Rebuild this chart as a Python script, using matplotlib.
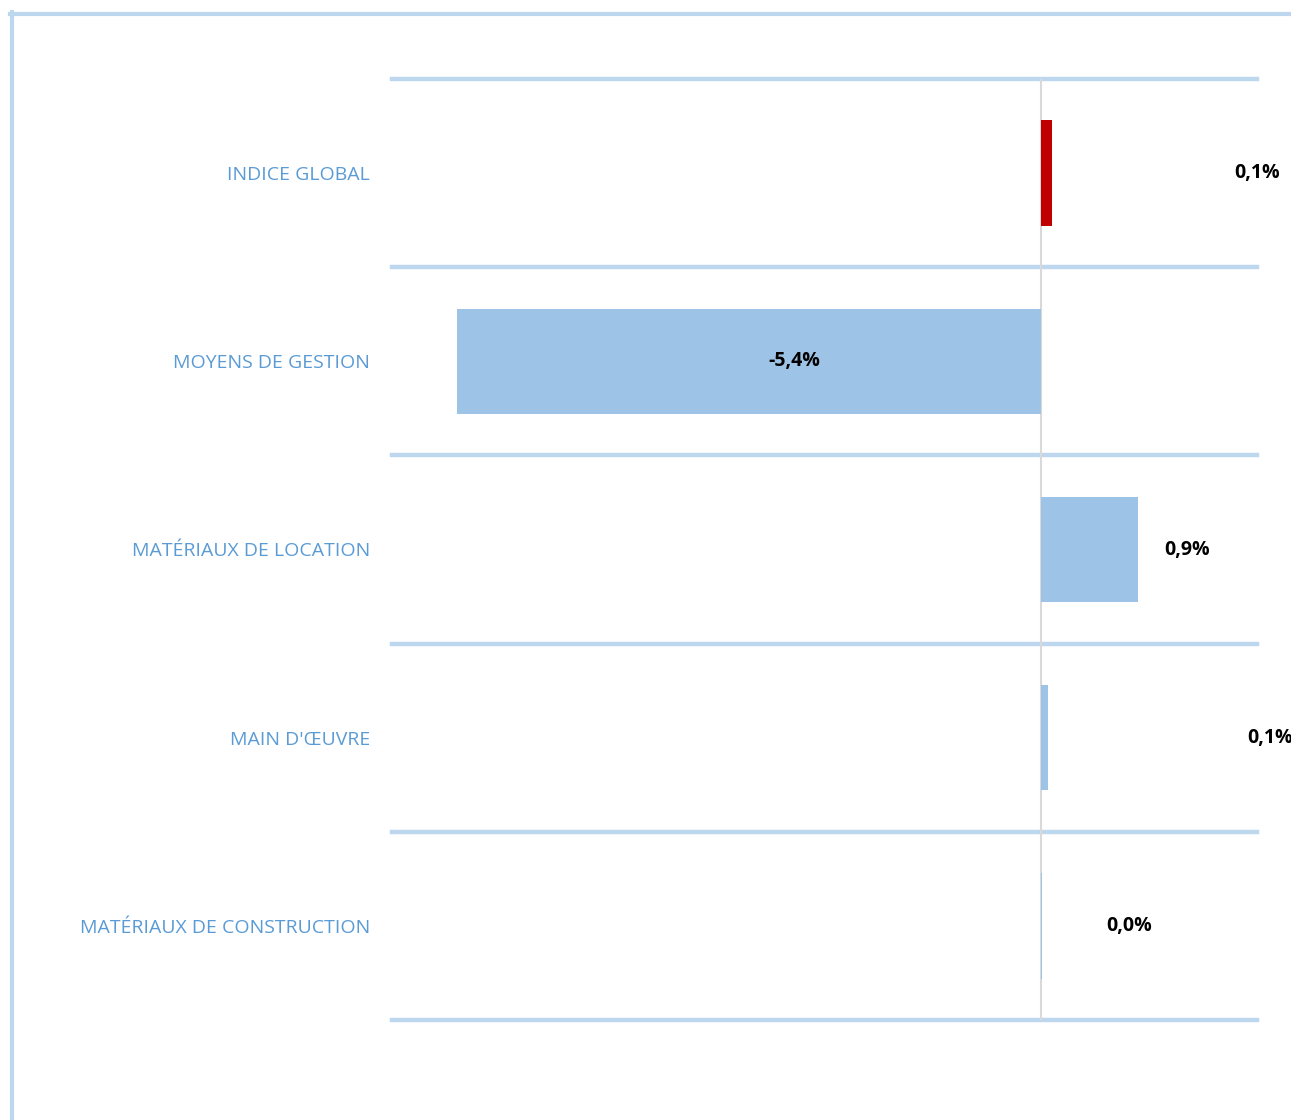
import numpy as np
import matplotlib.pyplot as plt
from matplotlib.lines import Line2D

# Data (top to bottom as displayed)
categories = ['INDICE GLOBAL', 'MOYENS DE GESTION', 'MATÉRIAUX DE LOCATION',
              "MAIN D'ŒUVRE", 'MATÉRIAUX DE CONSTRUCTION']
values = [0.1, -5.4, 0.9, 0.07, 0.015]
value_labels = ['0,1%', '-5,4%', '0,9%', '0,1%', '0,0%']

# where Excel dropped the data labels (in % units)
label_x = [2.0, -2.28, 1.35, 2.12, 0.82]
bar_colors = ['#C00000', '#9DC3E6', '#9DC3E6', '#9DC3E6', '#9DC3E6']

W, H = 1291, 1120
fig = plt.figure(figsize=(W / 100, H / 100), dpi=100)
ax = fig.add_axes([392 / W, 1 - 1020 / H, 865 / W, 941 / H])

y = np.arange(len(categories))
ax.barh(y, values, height=0.56, color=bar_colors, zorder=3)

ax.set_xlim(-6, 2)
ax.set_ylim(len(categories) - 0.5, -0.5)

# category separators
for b in np.arange(-0.5, len(categories), 1.0):
    ax.axhline(b, color='#BDD7EE', lw=3.2, zorder=1, clip_on=False)
ax.axvline(0, color='#D9D9D9', lw=1.5, zorder=2)

for yi, lx, txt in zip(y, label_x, value_labels):
    ax.text(lx, yi, txt, ha='center', va='center', fontsize=14,
            fontweight='bold', family='Open Sans', color='black',
            clip_on=False, zorder=4)

ax.set_yticks(y)
ax.set_yticklabels(categories, family='Open Sans', fontsize=14, color='#5B9BD5')
ax.tick_params(axis='y', length=0, pad=16)
ax.set_xticks([])
for s in ax.spines.values():
    s.set_visible(False)

# outer chart frame (cut off at right and bottom)
fig.add_artist(Line2D([11.5 / W, 11.5 / W], [0, 1 - 12 / H], transform=fig.transFigure,
                      color='#BDD7EE', lw=3.0))
fig.add_artist(Line2D([10 / W, 1], [1 - 13.5 / H, 1 - 13.5 / H], transform=fig.transFigure,
                      color='#BDD7EE', lw=3.0))

fig.savefig('out.png', dpi=100)
